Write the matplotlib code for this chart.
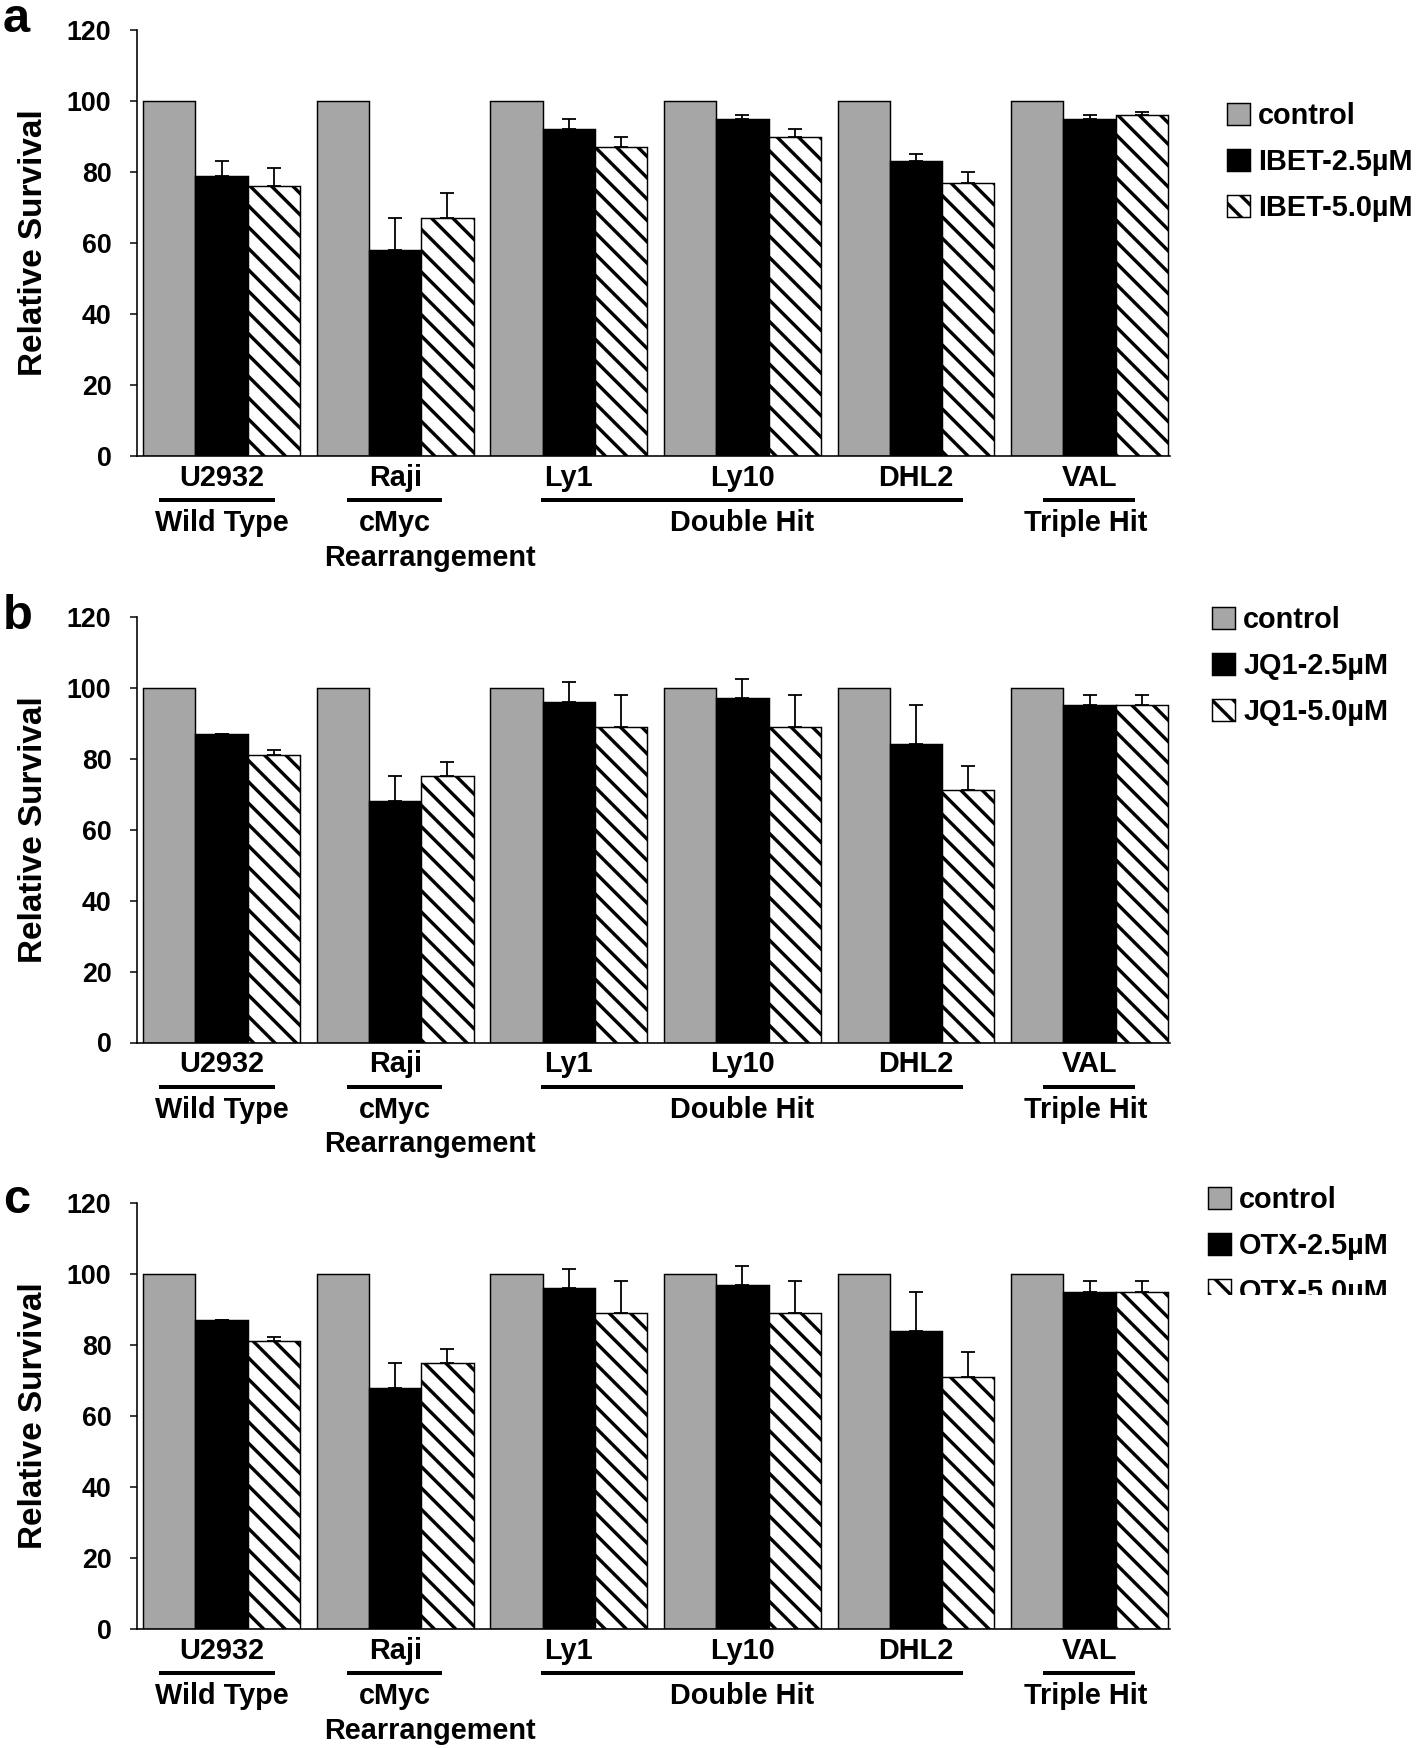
import numpy as np
import matplotlib
matplotlib.use("Agg")
import matplotlib.pyplot as plt
from matplotlib.transforms import Bbox, ScaledTranslation

# ---------------- data ----------------
cell_lines = ["U2932", "Raji", "Ly1", "Ly10", "DHL2", "VAL"]
group_names = [["Wild Type"], ["cMyc", "Rearrangement"], ["Double Hit"], ["Triple Hit"]]

control = [100, 100, 100, 100, 100, 100]

ibet_25 = [79, 58, 92, 95, 83, 95]
ibet_25_err = [4, 9, 3, 1, 2, 1]
ibet_50 = [76, 67, 87, 90, 77, 96]
ibet_50_err = [5, 7, 3, 2, 3, 1]

jq1_25 = [87, 68, 96, 97, 84, 95]
jq1_25_err = [0, 7, 5.5, 5.3, 11, 3]
jq1_50 = [81, 75, 89, 89, 71, 95]
jq1_50_err = [1.3, 4, 9, 9, 7, 3]

otx_25 = [87, 68, 96, 97, 84, 95]
otx_25_err = [0, 7, 5.5, 5.3, 11, 3]
otx_50 = [81, 75, 89, 89, 71, 95]
otx_50_err = [1.3, 4, 9, 9, 7, 3]

panel_letters = ["a", "b", "c"]
legend_labels = [
    ["control", "IBET-2.5\u00b5M", "IBET-5.0\u00b5M"],
    ["control", "JQ1-2.5\u00b5M", "JQ1-5.0\u00b5M"],
    ["control", "OTX-2.5\u00b5M", "OTX-5.0\u00b5M"],
]
y_ticks = [0, 20, 40, 60, 80, 100, 120]
y_label = "Relative Survival"

panels = [
    (ibet_25, ibet_25_err, ibet_50, ibet_50_err),
    (jq1_25, jq1_25_err, jq1_50, jq1_50_err),
    (otx_25, otx_25_err, otx_50, otx_50_err),
]

# ---------------- layout (pixels) ----------------
DPI = 128
W, H = 1418, 1748
PT = 72.0 / DPI  # points per pixel

axes_left, axes_right = 136.5, 1170
panel_tops = [30, 616.5, 1203]
axes_h = 426
bar_w = 0.301
xlim = (-0.49, 5.463)

underline_spans = [(-0.36, 0.31), (0.72, 1.27), (1.84, 4.27), (4.73, 5.26)]
group_line_x = [[0.0], [1.0, 1.2], [3.0], [4.98]]

legend_pos = [(1227, 162), (1212, 666), (1208, 1246)]  # left edge, middle-row y
letter_baselines = [32, 629, 1213]

# font sizes in pixels (em size)
FS_TICK = 26.7
FS_YLAB = 33.3
FS_CAT = 28.9
FS_LEG = 28.9
FS_LETTER = 48.9

plt.rcParams["font.family"] = ["Liberation Sans", "DejaVu Sans"]
plt.rcParams["font.weight"] = "bold"
plt.rcParams["hatch.linewidth"] = 3.4 * PT
plt.rcParams["hatch.color"] = "black"

fig = plt.figure(figsize=(W / DPI, H / DPI), dpi=DPI)

x = np.arange(len(cell_lines))
zeros = np.zeros(len(cell_lines))
ekw = dict(ecolor="black", elinewidth=1.8 * PT, capsize=7 * PT, capthick=1.8 * PT)
EDGE = 1.45 * PT

for k, (v25, e25, v50, e50) in enumerate(panels):
    top = panel_tops[k]
    ax = fig.add_axes([axes_left / W, 1 - (top + axes_h) / H,
                       (axes_right - axes_left) / W, axes_h / H])
    b1 = ax.bar(x - bar_w, control, bar_w, color="#a6a6a6",
                edgecolor="black", linewidth=EDGE)
    b2 = ax.bar(x, v25, bar_w, color="black", edgecolor="black", linewidth=EDGE,
                yerr=[zeros, e25], error_kw=ekw)
    b3 = ax.bar(x + bar_w, v50, bar_w, color="white", edgecolor="black",
                linewidth=EDGE, hatch="\\\\", yerr=[zeros, e50], error_kw=ekw)

    ax.set_xlim(*xlim)
    ax.set_ylim(0, 120)
    ax.set_yticks(y_ticks)
    ax.set_xticks([])
    ax.spines[["top", "right"]].set_visible(False)
    for s in ("left", "bottom"):
        ax.spines[s].set_linewidth(1.6 * PT)
    ax.tick_params(axis="y", direction="out", length=7 * PT, width=1.5 * PT,
                   labelsize=FS_TICK * PT, pad=18 * PT)
    ax.set_ylabel(y_label, fontsize=FS_YLAB * PT, fontweight="bold")
    ax.yaxis.set_label_coords(-0.085, 0.5)

    trans = ax.get_xaxis_transform()
    for i, name in enumerate(cell_lines):
        ax.annotate(name, xy=(i, 0), xycoords=trans, xytext=(0, -30 * PT),
                    textcoords="offset points", ha="center", va="baseline",
                    fontsize=FS_CAT * PT, fontweight="bold", annotation_clip=False)

    line_trans = trans + ScaledTranslation(0, -44 / DPI, fig.dpi_scale_trans)
    for (x0, x1) in underline_spans:
        ax.plot([x0, x1], [0, 0], transform=line_trans, color="black",
                lw=4 * PT, solid_capstyle="butt", clip_on=False)

    for lines, xs in zip(group_names, group_line_x):
        for j, txt in enumerate(lines):
            ax.annotate(txt, xy=(xs[j], 0), xycoords=trans,
                        xytext=(0, (-75 - 35 * j) * PT), textcoords="offset points",
                        ha="center", va="baseline", fontsize=FS_CAT * PT,
                        fontweight="bold", annotation_clip=False)

    lx, ly = legend_pos[k]
    leg = ax.legend(handles=[b1, b2, b3], labels=legend_labels[k],
                    loc="center left", bbox_to_anchor=(lx / W, 1 - ly / H),
                    bbox_transform=fig.transFigure, frameon=False,
                    fontsize=FS_LEG * PT,
                    handlelength=0.8, handleheight=0.8, handletextpad=0.28,
                    labelspacing=0.62, borderpad=0, borderaxespad=0)
    if k == 1:
        clip = Bbox([[0, 0], [1388, H]])
        for t in leg.get_texts():
            t.set_clip_box(clip)
            t.set_clip_on(True)
    if k == 2:
        clip = Bbox([[0, H - 1295], [W, H]])
        for t in leg.get_texts():
            t.set_clip_box(clip)
            t.set_clip_on(True)
        for p in leg.legend_handles:
            p.set_clip_box(clip)
            p.set_clip_on(True)

    fig.text(3 / W, 1 - letter_baselines[k] / H, panel_letters[k],
             fontsize=FS_LETTER * PT, fontweight="bold", ha="left", va="baseline")

fig.savefig("out.png", dpi=DPI)
